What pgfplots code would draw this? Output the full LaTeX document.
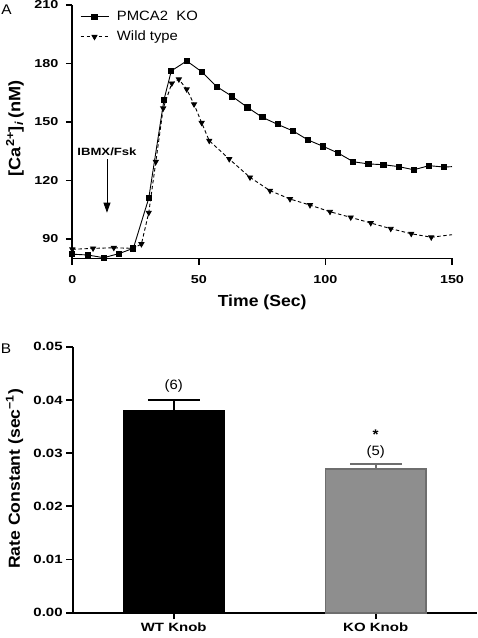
\documentclass[border=0pt]{standalone}
\usepackage{pgfplots}
\pgfplotsset{compat=1.18}
\usepackage{pgfplotstable}
\usetikzlibrary{arrows.meta}
\usepackage{fontspec}
\setmainfont{Liberation Sans}[FakeStretch=1.1]
\newfontfamily\tickfont{Liberation Sans}[FakeStretch=1.25]
\definecolor{kogray}{HTML}{8E8E8E}
\definecolor{kodark}{HTML}{6E6E6E}

\pgfplotstableread{
t c
0 82.2
6.1 81.8
12.4 80.4
18.4 82.5
24.1 85.2
30.2 110.9
36.2 161.3
39.1 176.2
45.2 181.3
51.1 175.8
57.1 168.1
63.2 163.1
69.2 157.5
75.1 152.4
81.1 148.8
87.2 145.4
93.1 140.8
99.1 137.5
105.0 134.1
111.0 129.6
117.0 128.5
122.9 128.1
129.0 127.1
134.9 125.5
140.9 127.6
146.9 126.9
}\kodata

\pgfplotstableread{
t c
0 84.7
8.2 85.2
16.4 85.5
24.1 85.2
27.3 87.4
30.2 103.5
33.0 129.6
35.9 157.0
39.3 169.8
42.1 171.9
45.2 166.8
48.1 159.1
51.1 149.6
54.1 140.4
62.0 131.0
70.2 121.6
78.1 114.8
86.0 110.5
93.9 107.4
101.8 104.0
110.0 101.1
117.9 98.2
125.8 95.3
133.9 92.7
141.8 90.9
}\wtdata

\newcommand{\legfont}{\fontsize{13.5pt}{15pt}\selectfont}

\pgfplotsset{
  myaxis/.style={
    scale only axis,
    axis lines=left,
    axis line style={line width=1.8pt,-},
    tick align=outside,
    major tick length=6.5pt,
    tick style={line width=1.8pt,black},
    /pgf/number format/assume math mode=true,
    clip=false,
  }
}

\begin{document}
\begin{tikzpicture}
\useasboundingbox (0pt,0pt) rectangle (478pt,638pt);

% ---------------- Panel A ----------------
\begin{axis}[myaxis,
  at={(72.3pt,379.5pt)}, anchor=south west,
  width=379.7pt, height=253.5pt,
  xmin=0, xmax=150, ymin=80, ymax=210,
  xtick={0,50,100,150}, ytick={90,120,150,180,210},
  tick label style={font=\tickfont\bfseries\fontsize{11.5pt}{12pt}\selectfont},
  xticklabel style={yshift=-7pt},
  yticklabel style={xshift=-4pt},
  xlabel={Time (Sec)},
  ylabel={[Ca\textsuperscript{2+}]\textsubscript{\textit{i}}\,(nM)},
  every axis x label/.style={at={(axis description cs:0.5,-0.172)}, anchor=center,
     font=\bfseries\fontsize{16pt}{18pt}\selectfont},
  every axis y label/.style={at={(axis description cs:-0.151,0.513)}, rotate=90, anchor=center,
     font=\bfseries\fontsize{16.5pt}{18pt}\selectfont},
  legend style={at={(axis description cs:0.012,0.992)}, anchor=north west, draw=none, fill=none,
     font=\legfont, row sep=5pt,
     /tikz/every odd column/.append style={column sep=6pt}},
  legend cell align=left,
  legend image code/.code={\draw[mark repeat=2,mark phase=2,#1] plot coordinates {(0pt,0pt) (14pt,0pt) (28pt,0pt)};},
]
\addplot[black, line width=0.9pt, mark=square*, mark size=2.6pt, mark options={solid}] table[x=t,y=c] {\kodata};
\addlegendentry{\legfont PMCA2~~KO}
\addplot[black, line width=0.9pt, dash pattern=on 3.5pt off 2.5pt, mark=triangle*, mark size=2.8pt, mark options={solid, rotate=180}] table[x=t,y=c] {\wtdata};
\addlegendentry{\legfont Wild type}
\addplot[forget plot, black, line width=0.9pt, no marks] coordinates {(146.9,126.9) (150,127.1)};
\addplot[forget plot, black, line width=0.9pt, no marks, dash pattern=on 3.5pt off 2.5pt] coordinates {(141.8,90.9) (150,92.2)};
\node[inner sep=0pt, font=\tickfont\bfseries\fontsize{10.5pt}{11pt}\selectfont] at (axis cs:13.7,134.7) {IBMX/Fsk};
\draw[line width=0.8pt, -{Triangle[width=7pt,length=10pt]}] (axis cs:13.7,131) -- (axis cs:13.7,103.5);
\end{axis}

% ---------------- Panel B ----------------
\begin{axis}[myaxis,
  at={(72.7pt,25.3pt)}, anchor=south west,
  width=404pt, height=266pt,
  xmin=-0.5, xmax=1.5, ymin=0, ymax=0.05,
  xtick={0,1}, xticklabels={WT Knob, KO Knob},
  ytick={0,0.01,0.02,0.03,0.04,0.05},
  scaled y ticks=false,
  yticklabel style={/pgf/number format/fixed, /pgf/number format/fixed zerofill, /pgf/number format/precision=2},
  tick label style={font=\tickfont\bfseries\fontsize{12pt}{13pt}\selectfont},
  ylabel={Rate Constant (sec\textsuperscript{−1})},
  every axis y label/.style={at={(axis description cs:-0.144,0.503)}, rotate=90, anchor=center,
     font=\bfseries\fontsize{16pt}{18pt}\selectfont},
]
\addplot[ybar, bar shift=0pt, bar width=0.497, fill=black, draw=black, line width=1.8pt,
  error bars/.cd, y dir=plus, y explicit,
  error bar style={line width=1.8pt, black},
  error mark options={rotate=90, line width=1.8pt, black, mark size=25.85pt}]
  coordinates {(0,0.038) +- (0,0.002)};
\addplot[ybar, bar shift=0pt, bar width=0.497, fill=kogray, draw=kodark, line width=1.8pt,
  error bars/.cd, y dir=plus, y explicit,
  error bar style={line width=1.8pt, kodark},
  error mark options={rotate=90, line width=1.8pt, kodark, mark size=25.85pt}]
  coordinates {(1,0.027) +- (0,0.001)};
\node[inner sep=0pt, font=\fontsize{13.5pt}{15pt}\selectfont] at (axis cs:0,0.04255) {(6)};
\node[inner sep=0pt, font=\fontsize{13.5pt}{15pt}\selectfont] at (axis cs:1,0.0302) {(5)};
\node[inner sep=0pt, anchor=base, font=\bfseries\fontsize{14pt}{15pt}\selectfont] at (axis cs:1,0.0325) {*};
\end{axis}

\node[inner sep=0pt, font=\fontsize{14pt}{15pt}\selectfont] at (6.5pt,628pt) {A};
\node[inner sep=0pt, font=\fontsize{14pt}{15pt}\selectfont] at (6pt,289pt) {B};
\end{tikzpicture}
\end{document}
